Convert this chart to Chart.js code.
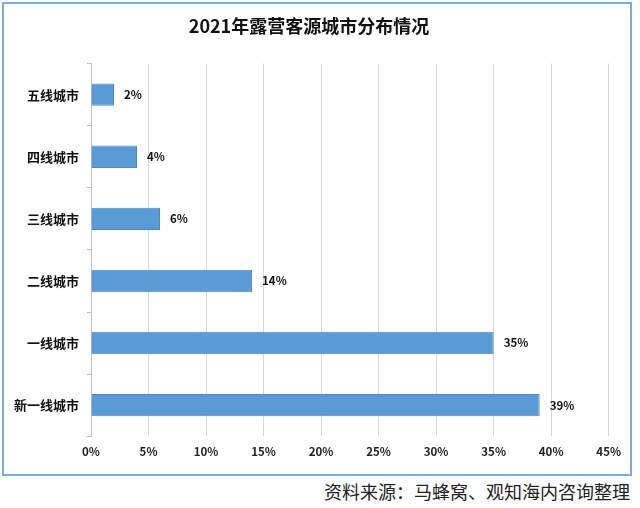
<!DOCTYPE html>
<html>
<head>
<meta charset="utf-8">
<script src="https://cdn.jsdelivr.net/npm/chart.js@4/dist/chart.umd.min.js"></script>
<style>
  body { margin: 0; background: #fff; width: 640px; height: 508px; position: relative; overflow: hidden; }
  #box { position: absolute; left: 2px; top: 2px; width: 626px; height: 470px; border: 2px solid #7aaedc; background: #fff; }
  #source { position: absolute; right: 10px; top: 478px; font: 18px "Noto Sans CJK SC", sans-serif; color: #222; }
</style>
</head>
<body>
<div id="box"><canvas id="chart" width="626" height="470"></canvas></div>
<div id="source">资料来源：马蜂窝、观知海内咨询整理</div>
<script>
const titleText = "2021年露营客源城市分布情况";
const categories = ["五线城市", "四线城市", "三线城市", "二线城市", "一线城市", "新一线城市"];
const shares = [2, 4, 6, 14, 35, 39];

const cjk = '"Noto Sans CJK SC", "Noto Sans", sans-serif';

// bar value labels, drawn just past the end of each bar
const valueLabels = {
  id: "valueLabels",
  afterDatasetsDraw(chart) {
    const ctx = chart.ctx;
    const meta = chart.getDatasetMeta(0);
    ctx.save();
    ctx.font = "bold 11.5px " + cjk;
    ctx.fillStyle = "#111";
    ctx.textBaseline = "middle";
    meta.data.forEach((bar, i) => {
      ctx.fillText(shares[i] + "%", bar.x + 10, bar.y);
    });
    ctx.restore();
  }
};

new Chart(document.getElementById("chart"), {
  type: "bar",
  data: {
    labels: categories,
    datasets: [{
      data: shares,
      backgroundColor: "#5b9bd5",
      borderColor: "#4a8ac6",
      borderWidth: 1,
      categoryPercentage: 0.36,
      barPercentage: 1
    }]
  },
  options: {
    indexAxis: "y",
    responsive: false,
    animation: false,
    layout: { padding: { left: 0, right: 16, top: 0, bottom: 6 } },
    scales: {
      x: {
        min: 0,
        max: 45,
        ticks: {
          stepSize: 5,
          color: "#222",
          padding: 9,
          font: { family: cjk, size: 11.5, weight: "bold" },
          callback: v => v + "%"
        },
        grid: { color: "#d9d9d9", drawTicks: false },
        border: { display: false }
      },
      y: {
        afterFit: s => { s.width = 87; },
        ticks: {
          color: "#111",
          padding: 8,
          font: { family: cjk, size: 13, weight: "bold" }
        },
        grid: { offset: true, drawOnChartArea: false, tickLength: 4, color: "#bfbfbf" },
        border: { color: "#bfbfbf" }
      }
    },
    plugins: {
      legend: { display: false },
      tooltip: { enabled: false },
      title: {
        display: true,
        text: titleText,
        color: "#111",
        font: { family: cjk, size: 18, weight: "bold" },
        padding: { top: 11, bottom: 27 }
      }
    }
  },
  plugins: [valueLabels]
});
</script>
</body>
</html>
